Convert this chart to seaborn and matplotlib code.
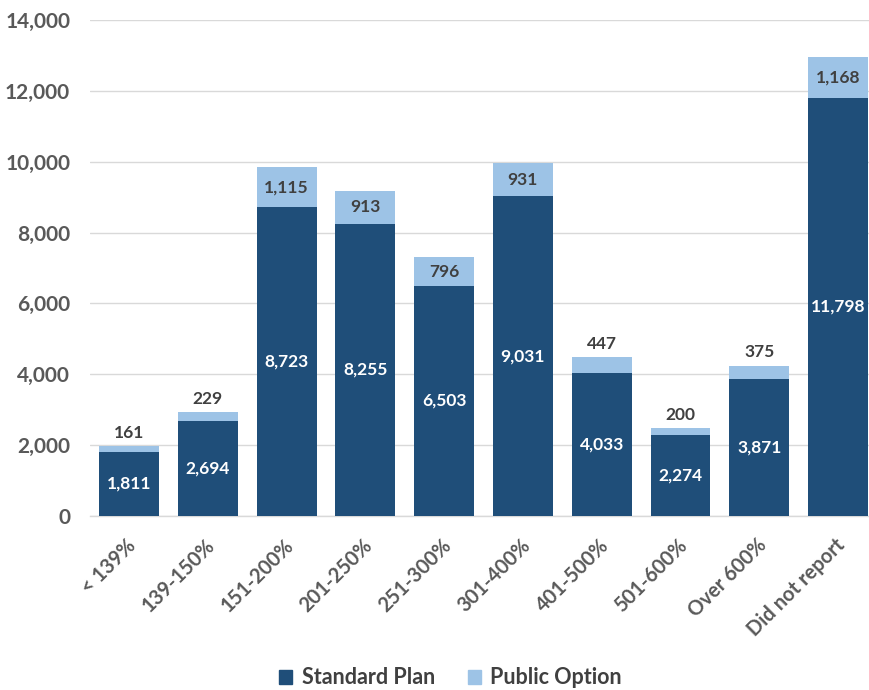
import pandas as pd
import matplotlib
matplotlib.use("Agg")
import matplotlib.pyplot as plt
import matplotlib.transforms as mtransforms
import seaborn as sns
from matplotlib.patches import Patch

# Dados do gráfico
categorias = ['< 139%', '139-150%', '151-200%', '201-250%', '251-300%',
              '301-400%', '401-500%', '501-600%', 'Over 600%', 'Did not report']
standard_plan = [1811, 2694, 8723, 8255, 6503, 9031, 4033, 2274, 3871, 11798]
public_option = [161, 229, 1115, 913, 796, 931, 447, 200, 375, 1168]

cor_escura = '#1F4E79'
cor_clara = '#9DC3E6'
cor_texto = '#595959'

df = pd.DataFrame({'cat': categorias, 'std': standard_plan, 'pub': public_option})
df['total'] = df['std'] + df['pub']

sns.set_style('white')
plt.rcParams['font.family'] = ['Lato', 'DejaVu Sans']
plt.rcParams['font.weight'] = 'bold'

fig = plt.figure(figsize=(8.7, 6.9), dpi=100)
ax = fig.add_axes([89.6 / 870, 1 - 516 / 690, 780.4 / 870, 496 / 690])

sns.barplot(data=df, x='cat', y='total', color=cor_clara, width=0.76,
            saturation=1, linewidth=0, ax=ax, zorder=2)
sns.barplot(data=df, x='cat', y='std', color=cor_escura, width=0.76,
            saturation=1, linewidth=0, ax=ax, zorder=3)

# Rótulos
for i, row in df.iterrows():
    ax.text(i, row['std'] / 2, f"{row['std']:,}", ha='center', va='center',
            color='white', fontsize=12.5, fontweight='bold', zorder=4)
    if row['pub'] >= 700:
        ax.text(i, row['std'] + row['pub'] / 2, f"{row['pub']:,}", ha='center',
                va='center', color='#404040', fontsize=12.5, fontweight='bold', zorder=4)
    else:
        ax.text(i, row['total'] + 380, f"{row['pub']:,}", ha='center',
                va='center', color='#404040', fontsize=12.5, fontweight='bold', zorder=4)

ax.set_xlim(-0.5, 9.405)
ax.set_ylim(0, 14000)
ax.set_yticks(range(0, 14001, 2000))
ax.set_yticklabels([f'{v:,}' for v in range(0, 14001, 2000)])
ax.yaxis.grid(True, color='#D9D9D9', linewidth=1, zorder=0)
ax.set_axisbelow(True)
for s in ['top', 'right', 'left']:
    ax.spines[s].set_visible(False)
ax.spines['bottom'].set_color('#D9D9D9')
ax.spines['bottom'].set_linewidth(1)
ax.tick_params(axis='y', length=0, colors=cor_texto, labelsize=15, pad=14)
ax.tick_params(axis='x', length=0, colors=cor_texto, labelsize=14.5, pad=19)
offset = mtransforms.ScaledTranslation(4 / 100, 0, fig.dpi_scale_trans)
for lbl in ax.get_xticklabels():
    lbl.set_rotation(45)
    lbl.set_ha('right')
    lbl.set_va('center')
    lbl.set_rotation_mode('anchor')
    lbl.set_fontweight('bold')
    lbl.set_transform(lbl.get_transform() + offset)
plt.setp(ax.get_yticklabels(), fontweight='bold')
ax.set_xlabel('')
ax.set_ylabel('')

handles = [Patch(color=cor_escura, label='Standard Plan'),
           Patch(color=cor_clara, label='Public Option')]
fig.legend(handles=handles, loc='center', bbox_to_anchor=(0.518, 1 - 678 / 690),
           ncol=2, frameon=False, fontsize=15.5, handlelength=0.6, handleheight=0.6,
           columnspacing=1.5, handletextpad=0.45, labelcolor='#404040')

plt.savefig('out.png', dpi=100)
plt.close()
